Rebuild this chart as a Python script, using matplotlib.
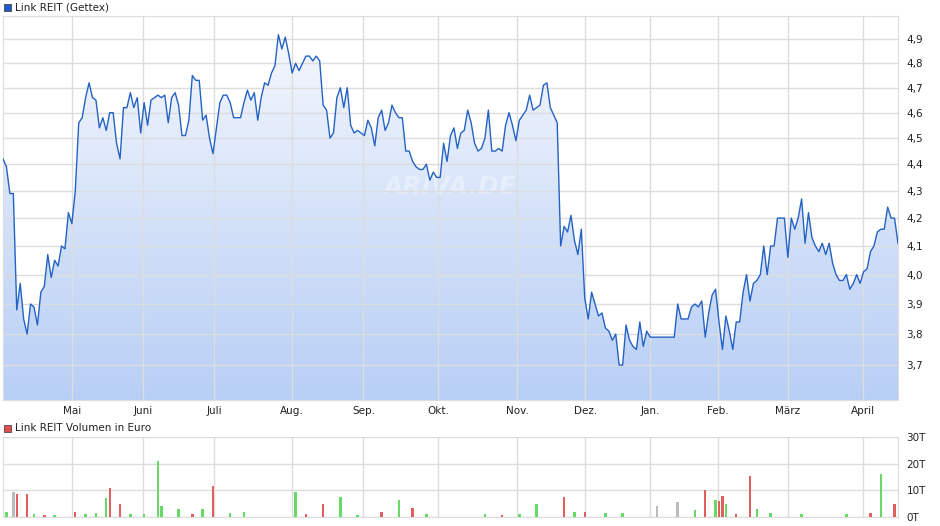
import numpy as np
import matplotlib
matplotlib.use('Agg')
import matplotlib.pyplot as plt
from matplotlib.ticker import FixedLocator, NullLocator
from matplotlib.patches import Polygon

# daily closes, Link REIT (Gettex), one value per trading day
prices = [
    4.42, 4.39, 4.29, 4.29, 3.88, 3.97, 3.85, 3.80, 3.90, 3.89, 3.83, 3.94, 3.96, 4.07, 3.99, 4.05, 4.03, 4.10, 4.09, 4.22, 4.18,
    4.30, 4.56, 4.58, 4.66, 4.72, 4.66, 4.65, 4.54, 4.58, 4.53, 4.60, 4.60, 4.48, 4.42, 4.62, 4.62, 4.68, 4.62, 4.66, 4.52,
    4.64, 4.55, 4.65, 4.66, 4.67, 4.66, 4.67, 4.56, 4.66, 4.68, 4.63, 4.51, 4.51, 4.57, 4.75, 4.73, 4.73, 4.57, 4.59, 4.50, 4.44,
    4.54, 4.64, 4.67, 4.67, 4.64, 4.58, 4.58, 4.58, 4.64, 4.69, 4.65, 4.68, 4.57, 4.66, 4.72, 4.71, 4.76, 4.79, 4.92, 4.86, 4.91, 4.84, 4.76,
    4.80, 4.77, 4.80, 4.83, 4.83, 4.81, 4.83, 4.81, 4.63, 4.61, 4.50, 4.52, 4.66, 4.70, 4.62, 4.70, 4.55, 4.52, 4.53, 4.52, 4.51,
    4.57, 4.54, 4.47, 4.58, 4.61, 4.53, 4.56, 4.63, 4.60, 4.58, 4.58, 4.45, 4.45, 4.41, 4.39, 4.38, 4.38, 4.40, 4.34, 4.37, 4.35, 4.35, 4.48, 4.41,
    4.51, 4.54, 4.46, 4.52, 4.53, 4.61, 4.56, 4.48, 4.45, 4.46, 4.50, 4.61, 4.45, 4.45, 4.46, 4.45, 4.55, 4.60, 4.55, 4.49, 4.57,
    4.59, 4.61, 4.67, 4.61, 4.62, 4.63, 4.71, 4.72, 4.62, 4.59, 4.56, 4.10, 4.17, 4.15, 4.21, 4.12, 4.07, 4.16,
    3.92, 3.85, 3.94, 3.90, 3.86, 3.87, 3.82, 3.81, 3.78, 3.80, 3.70, 3.70,
    3.83, 3.78, 3.76, 3.75, 3.84, 3.76, 3.81, 3.79, 3.79, 3.79, 3.79, 3.79, 3.79, 3.79, 3.79,
    3.90, 3.85, 3.85, 3.85, 3.89, 3.90, 3.89, 3.91, 3.79, 3.87, 3.93, 3.95, 3.84, 3.75, 3.86, 3.81, 3.75, 3.84, 3.84,
    3.94, 4.00, 3.91, 3.97, 3.98, 4.00, 4.10, 4.00, 4.10, 4.10, 4.20, 4.20, 4.20, 4.06, 4.20, 4.16, 4.20, 4.27, 4.11, 4.22,
    4.13, 4.10, 4.08, 4.11, 4.07, 4.11, 4.04, 4.00, 3.98, 3.98, 4.00, 3.95, 3.97, 4.00, 3.97, 4.01, 4.02, 4.08, 4.10, 4.15,
    4.16, 4.16, 4.24, 4.20, 4.20, 4.11,
]

month_labels = ['Mai', 'Juni', 'Juli', 'Aug.', 'Sep.', 'Okt.', 'Nov.', 'Dez.', 'Jan.', 'Feb.', 'März', 'April']
month_pos = [20, 40.7, 61.3, 84, 104.7, 126.5, 149.4, 169.2, 188, 207.8, 227.9, 249.7]
price_ticks = [3.7, 3.8, 3.9, 4.0, 4.1, 4.2, 4.3, 4.4, 4.5, 4.6, 4.7, 4.8, 4.9]

# volume in thousand euro: day index, value, colour code (u=up, d=down, n=unchanged)
vol_day = [1, 3, 4, 7, 9, 12, 15, 21, 24, 27, 30, 31, 34, 37, 41, 45, 46, 51, 55, 58, 61, 66, 70,
           85, 88, 93, 98, 103, 110, 115, 119, 123, 140, 145, 150, 155, 163, 166, 169, 175, 180,
           190, 196, 201, 204, 207, 208, 209, 210, 213, 217, 219, 223, 232, 245, 252, 255, 259]
vol_val = [2, 9.5, 8.5, 8.5, 1, 0.8, 0.6, 2, 1, 1.5, 7, 11, 5, 1, 1, 21, 4, 3, 1, 3, 11.5, 1.5, 2,
           9.5, 1, 5, 7.5, 0.8, 2, 6.5, 3.5, 1, 1, 0.8, 1, 5, 7.5, 2, 2, 1.5, 1.5,
           4, 5.5, 2.5, 10, 6.5, 6, 8, 5, 1, 15.5, 3, 1.5, 1, 1, 1.5, 16, 5]
vol_dir = ['u', 'n', 'd', 'd', 'u', 'd', 'u', 'd', 'u', 'u', 'u', 'd', 'd', 'u', 'u', 'u', 'u', 'u', 'd', 'u', 'd', 'u', 'u',
           'u', 'd', 'd', 'u', 'u', 'd', 'u', 'd', 'u', 'u', 'd', 'u', 'u', 'd', 'u', 'd', 'u', 'u',
           'n', 'n', 'u', 'd', 'u', 'd', 'd', 'u', 'd', 'd', 'u', 'u', 'u', 'u', 'd', 'u', 'd']
dir_colors = {'u': '#66d966', 'd': '#e06060', 'n': '#bbbbbb'}

W, H = 940, 526
fig = plt.figure(figsize=(W / 100, H / 100), dpi=100)
grid_c = '#dddddd'
line_c = '#2462c4'

x = np.arange(len(prices))
ymin, ymax = 3.59, 5.0

ax = fig.add_axes([3 / W, 1 - 400 / H, 895 / W, 384 / H])
ax.set_yscale('log')
ax.set_xlim(0, len(prices) - 1)
ax.set_ylim(ymin, ymax)

# gradient fill under the line
grad = np.linspace(0, 1, 256).reshape(-1, 1)
cmap = matplotlib.colors.LinearSegmentedColormap.from_list('g', ['#b8cff5', '#f7f9fe'])
im = ax.imshow(grad, aspect='auto', cmap=cmap, origin='lower',
               extent=[0, len(prices) - 1, ymin, 4.95], zorder=1)
poly = Polygon(np.column_stack([np.r_[x, x[-1], 0], np.r_[prices, ymin, ymin]]),
               closed=True, transform=ax.transData, visible=False)
ax.add_patch(poly)
im.set_clip_path(poly)
ax.plot(x, prices, color=line_c, lw=1.0, zorder=3)

ax.yaxis.set_major_locator(FixedLocator(price_ticks))
ax.yaxis.set_minor_locator(NullLocator())
ax.set_yticklabels([f'{t:.1f}'.replace('.', ',') for t in price_ticks])
ax.yaxis.tick_right()
ax.xaxis.set_major_locator(FixedLocator(month_pos))
ax.set_xticklabels(month_labels)
ax.tick_params(length=0, labelsize=7.5, colors='#222222', pad=4)
ax.tick_params(axis='y', pad=6)
ax.grid(True, color=grid_c, lw=1, zorder=2)
ax.set_axisbelow(False)
for s in ax.spines.values():
    s.set_color(grid_c)
ax.text(0.5, 0.555, 'ARIVA.DE', transform=ax.transAxes, ha='center', va='center',
        fontsize=18, style='italic', fontweight='bold', color='white', alpha=0.35, zorder=2)

# volume panel
axv = fig.add_axes([3 / W, 1 - 517 / H, 895 / W, 80 / H])
axv.bar(vol_day, vol_val, width=0.7, color=[dir_colors[d] for d in vol_dir], zorder=3)
axv.set_xlim(0, len(prices) - 1)
axv.set_ylim(0, 30)
axv.yaxis.set_major_locator(FixedLocator([0, 10, 20, 30]))
axv.set_yticklabels(['0T', '10T', '20T', '30T'])
axv.yaxis.tick_right()
axv.xaxis.set_major_locator(FixedLocator(month_pos))
axv.set_xticklabels([])
axv.tick_params(length=0, labelsize=7.5, colors='#222222', pad=6)
axv.grid(True, color=grid_c, lw=1, zorder=1)
for s in axv.spines.values():
    s.set_color(grid_c)

# legends
fig.patches.append(matplotlib.patches.Rectangle((4 / W, 1 - 11 / H), 7 / W, 7 / H, transform=fig.transFigure,
                                                facecolor='#1f5bc4', edgecolor='#333333', lw=0.5))
fig.text(15 / W, 1 - 7 / H, 'Link REIT (Gettex)', fontsize=7.5, va='center', color='#222222')
fig.patches.append(matplotlib.patches.Rectangle((4 / W, 1 - 432 / H), 7 / W, 7 / H, transform=fig.transFigure,
                                                facecolor='#e05050', edgecolor='#333333', lw=0.5))
fig.text(15 / W, 1 - 428 / H, 'Link REIT Volumen in Euro', fontsize=7.5, va='center', color='#222222')

fig.savefig('out.png', dpi=100)
